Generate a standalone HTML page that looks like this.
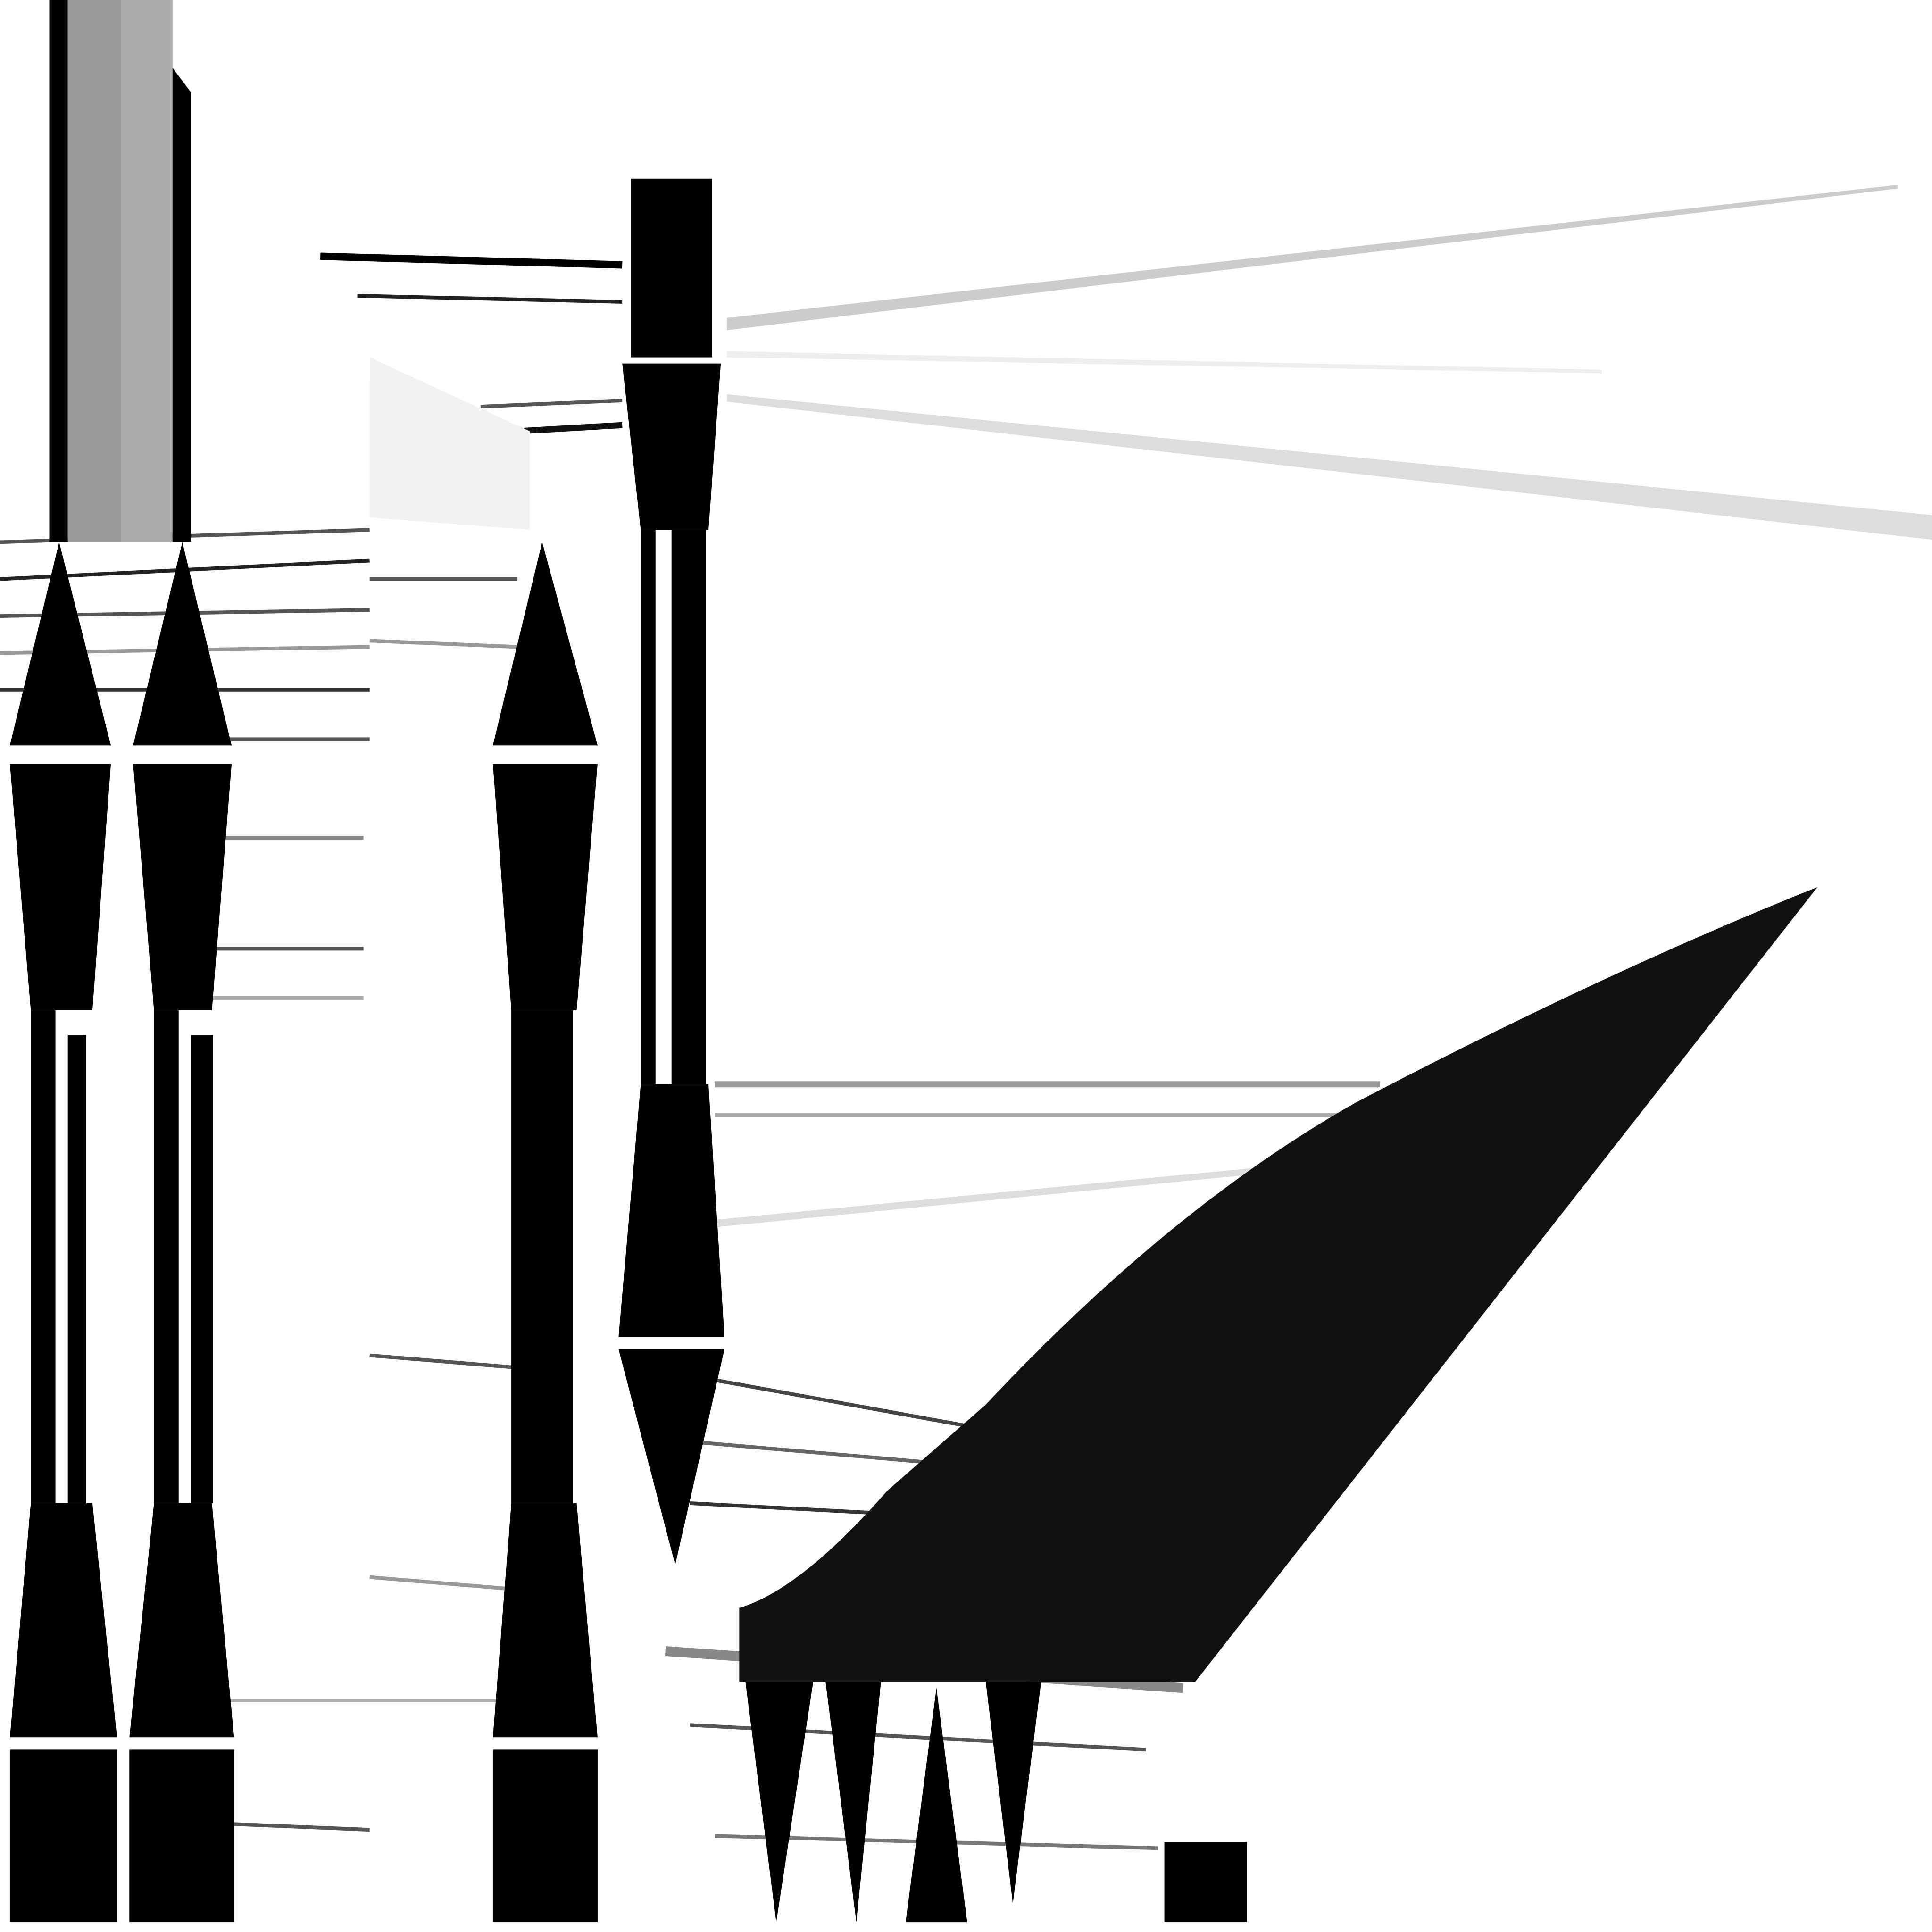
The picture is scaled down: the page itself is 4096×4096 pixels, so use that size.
<!DOCTYPE html>
<html><head><meta charset="utf-8"><style>
html,body{margin:0;padding:0;background:#fff;}
svg{display:block;}
</style></head><body>
<svg width="4096" height="4096" viewBox="0 0 1568 1568" xmlns="http://www.w3.org/2000/svg">
<rect width="1568" height="1568" fill="#fff"/>
<g stroke="#555" stroke-width="3">
<line x1="0" y1="440" x2="300" y2="430"/><line x1="0" y1="470" x2="300" y2="455" stroke="#222"/>
<line x1="0" y1="500" x2="300" y2="495"/><line x1="0" y1="530" x2="300" y2="525" stroke="#999"/>
<line x1="0" y1="560" x2="300" y2="560" stroke="#333"/><line x1="170" y1="600" x2="300" y2="600"/>
<line x1="170" y1="680" x2="295" y2="680" stroke="#888"/><line x1="170" y1="770" x2="295" y2="770"/>
<line x1="170" y1="810" x2="295" y2="810" stroke="#aaa"/><line x1="300" y1="470" x2="420" y2="470"/>
<line x1="300" y1="520" x2="420" y2="525" stroke="#999"/><line x1="300" y1="1100" x2="420" y2="1110"/>
<line x1="300" y1="1280" x2="420" y2="1290" stroke="#999"/><line x1="170" y1="1380" x2="420" y2="1380" stroke="#aaa"/>
<line x1="180" y1="1480" x2="300" y2="1485"/><line x1="260" y1="208" x2="505" y2="215" stroke="#000" stroke-width="6"/>
<line x1="290" y1="240" x2="505" y2="245" stroke="#222"/><line x1="390" y1="330" x2="505" y2="325"/>
<line x1="420" y1="350" x2="505" y2="345" stroke="#111" stroke-width="5"/>
<line x1="580" y1="880" x2="1120" y2="880" stroke="#999" stroke-width="5"/>
<line x1="580" y1="905" x2="1100" y2="905" stroke="#aaa" stroke-width="3"/>
<line x1="580" y1="1120" x2="800" y2="1160" stroke="#444"/><line x1="560" y1="1170" x2="790" y2="1190" stroke="#666"/>
<line x1="560" y1="1220" x2="750" y2="1230" stroke="#333"/><line x1="540" y1="1340" x2="960" y2="1370" stroke="#888" stroke-width="8"/>
<line x1="560" y1="1400" x2="930" y2="1420" stroke="#555"/><line x1="580" y1="1490" x2="940" y2="1500" stroke="#777"/>
</g>
<g>
<polygon points="590,258 1540,150 1540,153 590,268" fill="#ccc"/>
<polygon points="590,320 1568,418 1568,438 590,326" fill="#ddd"/>
<polygon points="590,285 1300,300 1300,303 590,290" fill="#eee"/>
<polygon points="580,990 1100,940 1100,945 580,996" fill="#ddd"/>
<polygon points="300,290 430,350 430,430 300,420" fill="#f2f2f2"/>
</g>
<g>
<rect x="40" y="0" width="15" height="440" fill="#000"/>
<rect x="55" y="0" width="43" height="440" fill="#999"/>
<rect x="98" y="0" width="42" height="440" fill="#aaa"/>
<polygon points="140,55 155,75 155,440 140,440" fill="#000"/>
</g>
<g fill="#000">
<polygon points="48,440 90,605 8,605"/><polygon points="8,620 90,620 75,820 25,820"/>
<rect x="25" y="820" width="20" height="400"/><rect x="55" y="840" width="15" height="380"/>
<polygon points="25,1220 75,1220 95,1410 8,1410"/><rect x="8" y="1420" width="87" height="140"/>
<polygon points="148,440 188,605 108,605"/><polygon points="108,620 188,620 172,820 125,820"/>
<rect x="125" y="820" width="20" height="400"/><rect x="155" y="840" width="18" height="380"/>
<polygon points="125,1220 172,1220 190,1410 105,1410"/><rect x="105" y="1420" width="85" height="140"/>
<polygon points="440,440 485,605 400,605"/><polygon points="400,620 485,620 468,820 415,820"/>
<rect x="415" y="820" width="50" height="400"/>
<polygon points="415,1220 468,1220 485,1410 400,1410"/><rect x="400" y="1420" width="85" height="140"/>
<rect x="512" y="145" width="66" height="145"/><polygon points="505,295 585,295 575,430 520,430"/>
<rect x="520" y="430" width="12" height="450"/><rect x="545" y="430" width="28" height="450"/>
<polygon points="520,880 575,880 588,1085 502,1085"/><polygon points="502,1095 588,1095 548,1270"/>
</g>
<g fill="#111">
<path d="M600,1305 Q650,1290 720,1210 L800,1140 Q950,980 1100,895 Q1300,790 1475,720 L970,1365 L600,1365 Z"/>
</g>
<g fill="#000">
<polygon points="605,1365 660,1365 630,1560"/><polygon points="670,1365 715,1365 695,1560"/>
<polygon points="760,1370 785,1560 735,1560"/><polygon points="800,1365 845,1365 822,1545"/>
<rect x="945" y="1495" width="67" height="65"/>
</g>
</svg>
</body></html>
